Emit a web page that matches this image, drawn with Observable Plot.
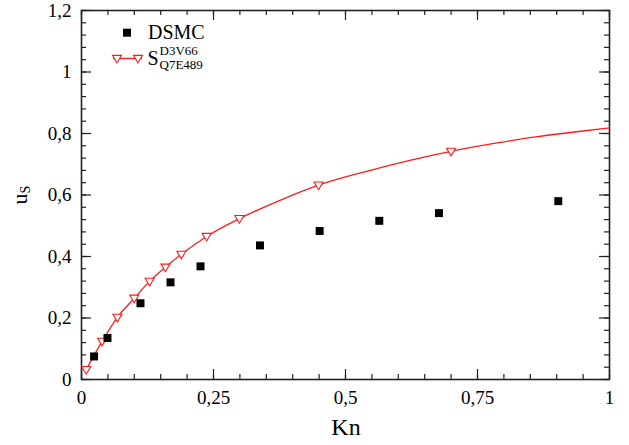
<!DOCTYPE html>
<html>
<head>
<meta charset="utf-8">
<script src="https://cdn.jsdelivr.net/npm/d3@7"></script>
<script src="https://cdn.jsdelivr.net/npm/@observablehq/plot@0.6"></script>
<style>
  body { margin: 0; background: #fff; }
  svg { display: block; }
</style>
</head>
<body>
<div id="chart"></div>
<script>
// ---- data ----
const dsmcKn = [0.0238, 0.0492, 0.1117, 0.1686, 0.2254, 0.338, 0.451, 0.564, 0.677, 0.903];
const dsmcUs = [0.075, 0.135, 0.248, 0.316, 0.368, 0.436, 0.483, 0.516, 0.541, 0.580];

const modelKn = [0.009, 0.039, 0.068, 0.0998, 0.129, 0.159, 0.189, 0.237, 0.299, 0.449, 0.700];
const modelUs = [0.032, 0.124, 0.202, 0.264, 0.319, 0.365, 0.407, 0.465, 0.523, 0.632, 0.742];

const curveKn = [0.009, 0.039, 0.068, 0.0998, 0.129, 0.159, 0.189, 0.237, 0.299, 0.375, 0.449, 0.54, 0.62, 0.700, 0.79, 0.86, 0.93, 1.0];
const curveUs = [0.032, 0.124, 0.202, 0.264, 0.319, 0.365, 0.407, 0.465, 0.523, 0.582, 0.632, 0.677, 0.712, 0.742, 0.770, 0.789, 0.804, 0.818];

const xMajorTicks = [0, 0.25, 0.5, 0.75, 1];
const xTickLabels = ["0", "0,25", "0,5", "0,75", "1"];
const yMajorTicks = [0, 0.2, 0.4, 0.6, 0.8, 1, 1.2];
const yTickLabels = ["0", "0,2", "0,4", "0,6", "0,8", "1", "1,2"];
const xMinorTicks = d3.range(0, 21).map(i => i / 20);
const yMinorTicks = d3.range(0, 31).map(i => i / 25);

const seriesNames = ["DSMC", "S"];
const seriesSup = "D3V66";
const seriesSub = "Q7E489";
const xTitle = "Kn";
const yTitle = ["u", "S"];

// ---- tables ----
const dsmc = dsmcKn.map((k, i) => ({kn: k, us: dsmcUs[i]}));
const model = modelKn.map((k, i) => ({kn: k, us: modelUs[i]}));
const curve = curveKn.map((k, i) => ({kn: k, us: curveUs[i]}));

const triDown = {
  draw(ctx, size) {
    const r = Math.sqrt(size / Math.PI);
    ctx.moveTo(-r, -r * 0.7);
    ctx.lineTo(r, -r * 0.7);
    ctx.lineTo(0, r);
    ctx.closePath();
  }
};

const RED = "#ff1a1a";
const INK = "#222";
const FONT = "'Liberation Serif', 'Times New Roman', serif";

const chart = Plot.plot({
  width: 629,
  height: 445,
  marginLeft: 81,
  marginRight: 20,
  marginTop: 10,
  marginBottom: 66,
  style: {fontFamily: FONT, color: "#000", background: "#fff"},
  x: {domain: [0, 1]},
  y: {domain: [0, 1.2]},
  marks: [
    // inward ticks, bottom & top
    Plot.ruleX(xMinorTicks, {x: d => d, y1: 0, y2: 0, insetTop: 0, insetBottom: 5, stroke: INK, strokeWidth: 1.2}),
    Plot.ruleX(xMajorTicks, {x: d => d, y1: 0, y2: 0, insetTop: 0, insetBottom: 10, stroke: INK, strokeWidth: 1.2}),
    Plot.ruleX(xMinorTicks, {x: d => d, y1: 1.2, y2: 1.2, insetTop: 0, insetBottom: -5, stroke: INK, strokeWidth: 1.2}),
    Plot.ruleX(xMajorTicks, {x: d => d, y1: 1.2, y2: 1.2, insetTop: 0, insetBottom: -10, stroke: INK, strokeWidth: 1.2}),
    // inward ticks, left & right
    Plot.ruleY(yMinorTicks, {y: d => d, x1: 0, x2: 0, insetLeft: 0, insetRight: -5, stroke: INK, strokeWidth: 1.2}),
    Plot.ruleY(yMajorTicks, {y: d => d, x1: 0, x2: 0, insetLeft: 0, insetRight: -10, stroke: INK, strokeWidth: 1.2}),
    Plot.ruleY(yMinorTicks, {y: d => d, x1: 1, x2: 1, insetLeft: -5, insetRight: 0, stroke: INK, strokeWidth: 1.2}),
    Plot.ruleY(yMajorTicks, {y: d => d, x1: 1, x2: 1, insetLeft: -10, insetRight: 0, stroke: INK, strokeWidth: 1.2}),
    Plot.frame({stroke: INK, strokeWidth: 1.6}),
    Plot.axisX(xMajorTicks, {
      tickSize: 0, tickPadding: 11, fontSize: 19, label: null,
      tickFormat: d => xTickLabels[xMajorTicks.indexOf(d)]
    }),
    Plot.axisY(yMajorTicks, {
      tickSize: 0, tickPadding: 10, fontSize: 19, label: null,
      tickFormat: d => yTickLabels[yMajorTicks.indexOf(d)]
    }),
    Plot.line(curve, {x: "kn", y: "us", stroke: RED, strokeWidth: 1.3, curve: "monotone-x"}),
    Plot.dot(model, {x: "kn", y: "us", symbol: triDown, r: 4.5, stroke: RED, fill: "#fff", strokeWidth: 1.1}),
    Plot.dot(dsmc, {x: "kn", y: "us", symbol: "square", r: 4.5, fill: "#000", stroke: "none"})
  ]
});

document.getElementById("chart").appendChild(chart);

// ---- titles and legend ----
const svg = d3.select(chart);

svg.append("text")
  .attr("x", 346).attr("y", 435)
  .attr("text-anchor", "middle")
  .attr("font-family", FONT).attr("font-size", 24).attr("fill", "#000")
  .text(xTitle);

const yl = svg.append("text")
  .attr("transform", "translate(27,195) rotate(-90)")
  .attr("text-anchor", "middle")
  .attr("font-family", FONT).attr("fill", "#000");
yl.append("tspan").attr("font-size", 22).text(yTitle[0]);
yl.append("tspan").attr("font-size", 14).attr("dy", 2.5).text(yTitle[1]);

const lg = svg.append("g").attr("font-family", FONT).attr("fill", "#000").attr("text-anchor", "start");
lg.append("rect").attr("x", 123).attr("y", 28.7).attr("width", 8).attr("height", 8).attr("fill", "#000");
lg.append("text").attr("x", 148).attr("y", 38.5).attr("font-size", 20).attr("text-anchor", "start").text(seriesNames[0]);

lg.append("line").attr("x1", 113).attr("x2", 142).attr("y1", 58.5).attr("y2", 58.5)
  .attr("stroke", RED).attr("stroke-width", 1.3);
[117, 138].forEach(cx => {
  const r = 4.5;
  lg.append("path")
    .attr("d", `M${cx - r},${58.5 - r * 0.7}L${cx + r},${58.5 - r * 0.7}L${cx},${58.5 + r}Z`)
    .attr("fill", "#fff").attr("stroke", RED).attr("stroke-width", 1.1);
});
lg.append("text").attr("x", 147.5).attr("y", 65).attr("font-size", 20).attr("text-anchor", "start").text(seriesNames[1]);
lg.append("text").attr("x", 159.5).attr("y", 55).attr("font-size", 13).attr("text-anchor", "start").text(seriesSup);
lg.append("text").attr("x", 159.5).attr("y", 68.5).attr("font-size", 13).attr("text-anchor", "start").text(seriesSub);
</script>
</body>
</html>
